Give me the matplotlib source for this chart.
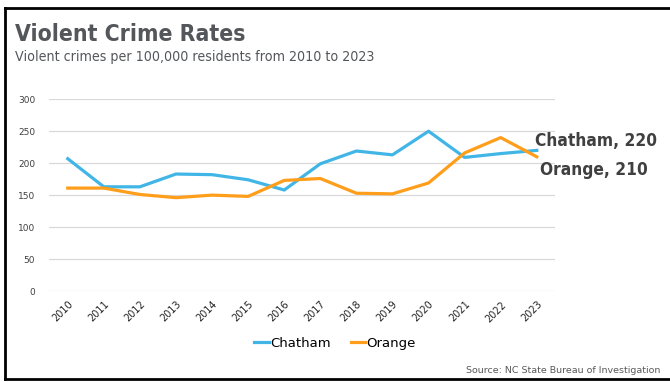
import matplotlib
matplotlib.use("Agg")
import matplotlib.pyplot as plt
from matplotlib.lines import Line2D

years = ['2010', '2011', '2012', '2013', '2014', '2015', '2016',
         '2017', '2018', '2019', '2020', '2021', '2022', '2023']
chatham = [207, 163, 163, 183, 182, 174, 158, 199, 219, 213, 250, 209, 215, 220]
orange = [161, 161, 151, 146, 150, 148, 173, 176, 153, 152, 169, 216, 240, 210]
yticks = [0, 50, 100, 150, 200, 250, 300]

BLUE = '#41b6e6'
ORANGE = '#ff9e1b'

plt.rcParams['font.family'] = ['DejaVu Sans']

fig = plt.figure(figsize=(6.7, 3.82), dpi=100)
ax = fig.add_axes([0.0731, 0.2382, 0.755, 0.502])

x = range(len(years))
ax.plot(x, chatham, color=BLUE, lw=2.3, label='Chatham')
ax.plot(x, orange, color=ORANGE, lw=2.3, label='Orange')

ax.set_xlim(-0.52, 13.5)
ax.set_ylim(0, 300)
ax.set_yticks(yticks)
ax.set_yticklabels([str(v) for v in yticks], fontsize=6.5, color='#404040')
ax.set_xticks(list(x))
ax.set_xticklabels(years, rotation=45, ha='right', rotation_mode='anchor',
                   fontsize=7, color='#222222')
ax.tick_params(axis='both', length=0)
ax.tick_params(axis='y', pad=10)
ax.tick_params(axis='x', pad=6)
ax.grid(axis='y', color='#d9d9d9', lw=0.9)
ax.set_axisbelow(True)
for s in ax.spines.values():
    s.set_visible(False)

# end labels
ax.text(12.95, chatham[-1] + 15, f'Chatham, {chatham[-1]}', fontsize=12.4,
        fontweight='bold', color='#404040', ha='left', va='center',
        fontstretch='condensed', clip_on=False)
ax.text(13.1, orange[-1] - 20, f'Orange, {orange[-1]}', fontsize=12.4,
        fontweight='bold', color='#404040', ha='left', va='center',
        fontstretch='condensed', clip_on=False)

fig.text(0.022, 0.893, 'Violent Crime Rates', fontsize=16.5, fontweight='bold',
         color='#53565a', va='baseline', fontstretch='condensed')
fig.text(0.022, 0.84, 'Violent crimes per 100,000 residents from 2010 to 2023',
         fontsize=10.2, color='#53565a', va='baseline', fontstretch='condensed')

fig.legend(loc='center', bbox_to_anchor=(0.5, 0.102), ncol=2, frameon=False,
           handlelength=1.1, handletextpad=0.1, columnspacing=1.5,
           prop={'size': 9.5})

fig.text(0.985, 0.031, 'Source: NC State Bureau of Investigation', fontsize=6.8,
         color='#595959', ha='right', va='center')

# frame
for xs, ys in [([0.0075, 1.0], [0.979, 0.979]),
               ([0.0075, 0.0075], [0.979, 0.007]),
               ([0.0075, 1.0], [0.007, 0.007])]:
    fig.add_artist(Line2D(xs, ys, color='black', lw=2.0,
                          transform=fig.transFigure))

fig.savefig('out.png', dpi=100)
